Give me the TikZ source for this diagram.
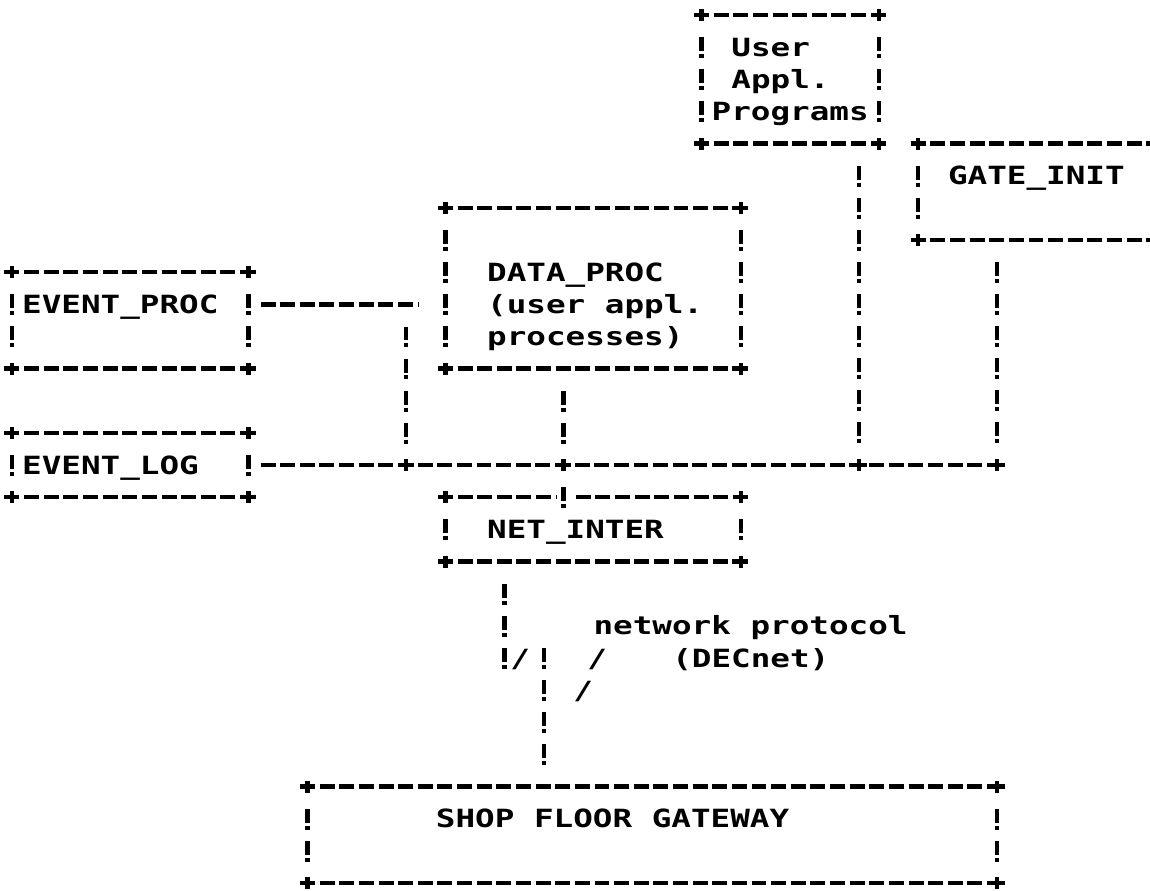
\documentclass[tikz,border=0pt]{standalone}
\usepackage{fontspec}
\newfontfamily\lpfont[FakeStretch=1.3]{DejaVu Sans Mono}
\usetikzlibrary{calc}
\tikzset{
  hline/.style={line width=2.5pt,dash pattern=on 8.5pt off 2.67pt},
  vline/.style={line width=2.5pt,dash pattern=on 7.94pt off 1.7pt on 2.27pt off 6.32pt},
  lptext/.style={inner sep=0pt,anchor=base west,font={\lpfont\bfseries\fontsize{14.27pt}{16pt}\selectfont}},
  lpchar/.style={lptext,anchor=base},
  area/.style={inner sep=0pt,outer sep=0pt,draw=none},
  plusmark/.pic={\draw[line width=2.5pt,solid] (-0.15cm,0)--(0.15cm,0) (0,-0.12cm)--(0,0.12cm);}
}
% box without its top border
\newcommand\lpboxsides[5]{%
  \node[area,minimum width={(#4-#2)*0.394cm},minimum height={(#5-#3)*0.643cm}] (#1) at ({(#2+#4)/2},{(#3+#5)/2}) {};
  \draw[hline] ($(#1.south west)+(0.619,0)$) -- ($(#1.south east)+(-0.381,0)$);
  \draw[vline] ($(#1.north west)+(0,0.689)$) -- ($(#1.south west)+(0,-0.6)$);
  \draw[vline] ($(#1.north east)+(0,0.689)$) -- ($(#1.south east)+(0,-0.6)$);
  \pic at (#1.north west) {plusmark};
  \pic at (#1.north east) {plusmark};
  \pic at (#1.south west) {plusmark};
  \pic at (#1.south east) {plusmark};
}
\newcommand\lpbox[5]{%
  \lpboxsides{#1}{#2}{#3}{#4}{#5}
  \draw[hline] ($(#1.north west)+(0.619,0)$) -- ($(#1.north east)+(-0.381,0)$);
}
\begin{document}
\begin{tikzpicture}[x=0.394cm,y=-0.643cm]
\useasboundingbox (-0.609,-0.4666) rectangle (57.766,27.216);
\clip (-0.609,-0.4666) rectangle (57.766,27.216);

% boxes
\lpbox{up}{35}{0}{44}{4}
\lpbox{gi}{46}{4}{59}{7}
\lpbox{dp}{22}{6}{37}{11}
\lpbox{ep}{0}{8}{12}{11}
\lpbox{el}{0}{13}{12}{15}
\lpboxsides{ni}{22}{15}{37}{17}
\lpbox{sf}{15}{24}{50}{27}

% texts
\node[lptext] (upA) at (36.5,1.28) {User};
\node[lptext] (upB) at (36.5,2.28) {Appl.};
\node[lptext] (upC) at (35.5,3.28) {Programs};
\node[lptext] (giT) at (47.5,5.28) {GATE\_INIT};
\node[lptext] (dpA) at (24.1,8.28) {DATA\_PROC};
\node[lptext] (dpB) at (24.1,9.28) {(user appl.};
\node[lptext] (dpC) at (24.1,10.28) {processes)};
\node[lptext] (epT) at (0.5,9.28) {EVENT\_PROC};
\node[lptext] (elT) at (0.5,14.28) {EVENT\_LOG};
\node[lptext] (niT) at (24.1,16.28) {NET\_INTER};
\node[lptext] (npA) at (29.5,19.28) {network protocol};
\node[lptext] (npB) at (33.5,20.28) {(DECnet)};
\node[lptext] (sfT) at (21.5,25.28) {SHOP FLOOR GATEWAY};
\node[lpchar] (sl1) at (25.8,20.28) {/};
\node[lpchar] (sl2) at (29.7,20.28) {/};
\node[lpchar] (sl3) at (29.0,21.28) {/};

% bus junctions
\coordinate (j20) at (20,14);
\coordinate (j28) at (28,14);
\coordinate (j43) at (43,14);
\coordinate (j50) at (50,14);
\coordinate (k9) at (20,9);
\coordinate (c25) at (25,20);
\coordinate (c27) at (27,20);

% NET_INTER top border with the pass-through at column 28
\draw[hline] ($(ni.north west)+(0.619,0)$) -- ($(ni.north west -| j28)+(-0.381,0)$);
\draw[hline] ($(ni.north west -| j28)+(0.619,0)$) -- ($(ni.north east)+(-0.381,0)$);

% bus
\draw[hline] ($(el.east)+(0.619,0)$) -- ($(j50)+(-0.381,0)$);
\foreach \j in {j20,j28,j43,j50} \pic at (\j) {plusmark};

% EVENT_PROC to bus
\draw[hline] ($(ep.east |- k9)+(0.619,0)$) -- ($(k9)+(0.619,0)$);
\draw[vline] ($(k9)+(0,0.689)$) -- ($(j20)+(0,-0.6)$);

% DATA_PROC to bus and NET_INTER
\draw[vline] ($(dp.south -| j28)+(0,0.689)$) -- ($(j28)+(0,-0.6)$);
\draw[vline] ($(j28)+(0,0.689)$) -- ($(ni.north -| j28)+(0,0.4)$);

% User Appl. Programs to bus
\draw[vline] ($(up.south -| j43)+(0,0.689)$) -- ($(j43)+(0,-0.6)$);

% GATE_INIT to bus
\draw[vline] ($(gi.south -| j50)+(0,0.689)$) -- ($(j50)+(0,-0.6)$);

% NET_INTER to SHOP FLOOR GATEWAY
\draw[vline] ($(ni.south -| c25)+(0,0.689)$) -- ($(c25)+(0,0.4)$);
\draw[vline] ($(c27)+(0,-0.311)$) -- ($(sf.north -| c27)+(0,-0.6)$);
\end{tikzpicture}
\end{document}
